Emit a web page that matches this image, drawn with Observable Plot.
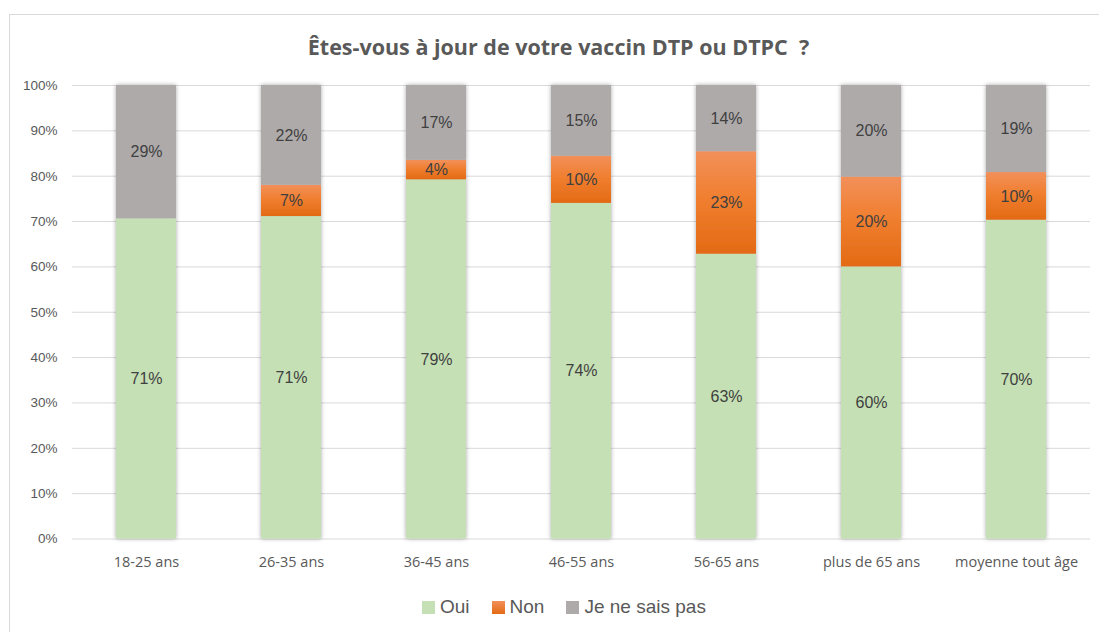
<!DOCTYPE html>
<html>
<head>
<meta charset="utf-8">
<script src="https://cdn.jsdelivr.net/npm/d3@7"></script>
<script src="https://cdn.jsdelivr.net/npm/@observablehq/plot@0.6"></script>
<style>
  html, body { margin: 0; padding: 0; background: #fff; overflow: hidden; }
  #wrap { position: relative; width: 1099px; height: 632px; overflow: hidden; }
  #frame { position: absolute; left: 9px; top: 14px; width: 1200px; height: 700px; border: 1px solid #d9d9d9; box-sizing: border-box; }
  #title { position: absolute; left: 0; width: 1117px; top: 32px; text-align: center; font-family: "Open Sans", Calibri, sans-serif; font-weight: bold; font-size: 21.5px; color: #595959; white-space: pre; }
  #chart { position: absolute; left: 0; top: 60px; }
  #legend { position: absolute; left: 422px; top: 596px; display: flex; align-items: center; font-family: "Liberation Sans", Arial, sans-serif; font-size: 19px; color: #595959; }
  #legend .item { display: flex; align-items: center; margin-right: 22px; }
  #legend .sw { width: 13px; height: 13px; margin-right: 5px; }
</style>
</head>
<body>
<div id="wrap">
  <div id="frame"></div>
  <div id="title">Êtes-vous à jour de votre vaccin DTP ou DTPC  ?</div>
  <div id="chart"></div>
  <div id="legend"></div>
</div>
<script>
const categories = ["18-25 ans", "26-35 ans", "36-45 ans", "46-55 ans", "56-65 ans", "plus de 65 ans", "moyenne tout âge"];
const series = ["Oui", "Non", "Je ne sais pas"];
const ouiValues = [70.6, 71.1, 79.2, 74.0, 62.8, 60.0, 70.3];
const nonValues = [0, 6.9, 4.3, 10.4, 22.6, 19.8, 10.5];
const nspValues = [29.4, 22.0, 16.5, 15.6, 14.6, 20.2, 19.2];
const ouiLabels = ["71%", "71%", "79%", "74%", "63%", "60%", "70%"];
const nonLabels = ["", "7%", "4%", "10%", "23%", "20%", "10%"];
const nspLabels = ["29%", "22%", "17%", "15%", "14%", "20%", "19%"];
const yTicks = [0, 10, 20, 30, 40, 50, 60, 70, 80, 90, 100];
const seriesColors = ["#c5e0b4", "url(#gradNon)", "#aeaaaa"];
const legendColors = ["#c5e0b4", "#ed7d31", "#aeaaaa"];

const rows = [];
categories.forEach((c, i) => {
  rows.push({cat: c, series: "Oui", value: ouiValues[i], label: ouiLabels[i]});
  rows.push({cat: c, series: "Non", value: nonValues[i], label: nonLabels[i]});
  rows.push({cat: c, series: "Je ne sais pas", value: nspValues[i], label: nspLabels[i]});
});

const chart = Plot.plot({
  width: 1099,
  height: 525,
  marginTop: 25,
  marginBottom: 46.5,
  marginLeft: 72,
  marginRight: 9,
  style: {color: "#595959", background: "transparent", overflow: "visible"},
  x: {domain: categories, paddingInner: 0.587, paddingOuter: 0.2935, label: null},
  y: {domain: [0, 100], label: null},
  color: {domain: series, range: seriesColors},
  marks: [
    Plot.ruleY(yTicks, {stroke: "#d9d9d9", strokeWidth: 1}),
    Plot.barY(rows, Plot.stackY({x: "cat", y: "value", fill: "series", order: series})),
    Plot.text(rows, Plot.stackY({x: "cat", y: "value", z: "series", order: series, text: "label",
      fill: "#404040", fontSize: 16, fontFamily: "'Liberation Sans', Arial, sans-serif"})),
    Plot.axisY({ticks: yTicks, tickSize: 0, tickPadding: 15, tickFormat: d => d + "%",
      fontSize: 13.5, fontFamily: "'Liberation Sans', Arial, sans-serif", label: null}),
    Plot.axisX({tickSize: 0, tickPadding: 18, fontSize: 14.5, fontFamily: "'Open Sans', Calibri, sans-serif", label: null})
  ]
});

const ns = "http://www.w3.org/2000/svg";
const defs = document.createElementNS(ns, "defs");
defs.innerHTML = `
  <linearGradient id="gradNon" x1="0" y1="0" x2="0" y2="1">
    <stop offset="0" stop-color="#f2905a"/>
    <stop offset="0.45" stop-color="#f07f30"/>
    <stop offset="1" stop-color="#e36a14"/>
  </linearGradient>
  <filter id="shadow" x="-20%" y="-5%" width="140%" height="110%">
    <feDropShadow dx="0" dy="0" stdDeviation="2" flood-color="#000" flood-opacity="0.35"/>
  </filter>`;
chart.insertBefore(defs, chart.firstChild);
const barG = chart.querySelector('g[aria-label="bar"]');
if (barG) barG.setAttribute("filter", "url(#shadow)");
document.getElementById("chart").appendChild(chart);

const legend = document.getElementById("legend");
series.forEach((s, i) => {
  const item = document.createElement("div");
  item.className = "item";
  const sw = document.createElement("div");
  sw.className = "sw";
  sw.style.background = i === 1 ? "linear-gradient(#f2905a, #e36a14)" : legendColors[i];
  const t = document.createElement("span");
  t.textContent = s;
  item.appendChild(sw);
  item.appendChild(t);
  legend.appendChild(item);
});
</script>
</body>
</html>
